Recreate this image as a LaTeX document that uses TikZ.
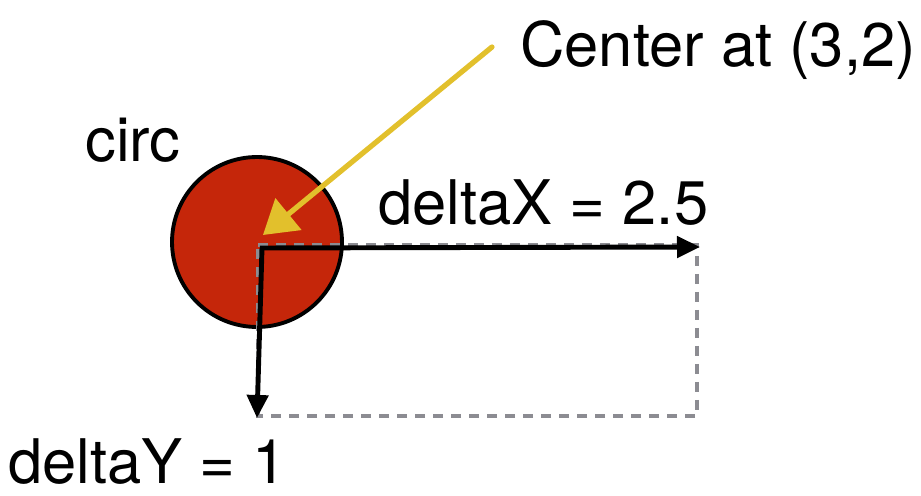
\documentclass[tikz,border=0pt]{standalone}
\usepackage{fontspec}
\setmainfont{TeX Gyre Heros}
\usepackage{xcolor}
\usepackage{tikz}
\usetikzlibrary{arrows.meta, positioning, calc}

\definecolor{circred}{RGB}{197,38,10}
\definecolor{penyellow}{RGB}{226,192,44}
\definecolor{dashgray}{RGB}{140,140,146}

\begin{document}
\begin{tikzpicture}[
  x=0.02cm, y=-0.02cm,
  every node/.style={font=\fontsize{35}{40}\selectfont, inner sep=0pt},
  lbl/.style={anchor=base west},
  dot/.style={circle, draw, line width=2.2pt, fill=circred,
              minimum size=3.4cm},
  arr/.style={-{Triangle[length=0.46cm, width=0.42cm]}, line width=2.8pt},
  darr/.style={dashgray, dashed, line width=2.8pt,
               dash pattern=on 0.2cm off 0.16cm},
  yarr/.style={-{Triangle[length=0.66cm, width=0.8cm]}, penyellow,
               line width=3pt, line cap=round},
]
\useasboundingbox (0,0) rectangle (921,496);

% the circle and its center
\node[dot] (circ) at (257,242) {};
\coordinate (ctr) at (258,245);
\coordinate (corner) at (697,416);

% labels
\node[lbl] (name) at (85,162) {circ};
\node[lbl] (callout) at (520,67) {Center at (3,2)};
\node[lbl] (dxlbl) at (378,225) {deltaX = 2.5};
\node[lbl] (dylbl) at (8,484) {deltaY = 1};

% dashed box from center to (x+dx, y+dy)
\draw[darr] (ctr) -| (corner) -| (ctr);

% the two offsets
\coordinate (xstart) at (260,248);
\coordinate (xend) at (700,247);
\coordinate (ystart) at (262,248);
\coordinate (yend) at (257,418);
\draw[arr] (xstart) -- (xend);
\draw[arr] (ystart) -- (yend);

% pointer to the center
\coordinate (ptail) at (492,47);
\coordinate (ptip) at (263,235);
\draw[yarr] (ptail) -- (ptip);

\end{tikzpicture}
\end{document}
